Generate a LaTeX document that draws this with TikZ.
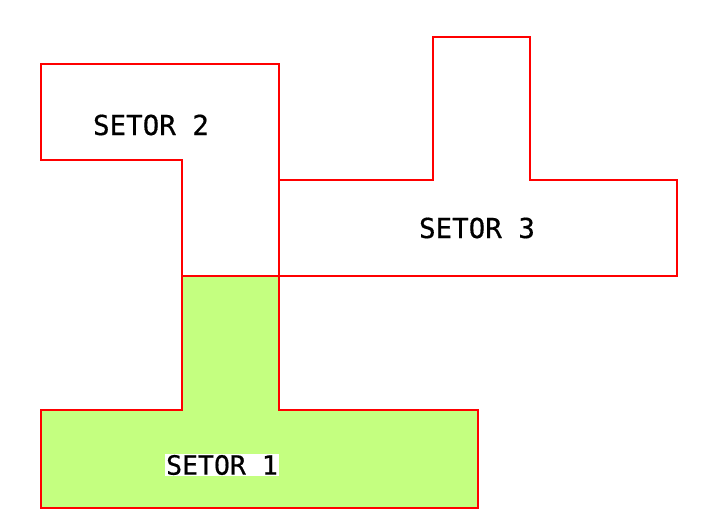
\documentclass[tikz,border=0pt]{standalone}
\usepackage{fontspec}
\setmonofont[FakeBold=0.6]{DejaVu Sans Mono}
\definecolor{setorred}{RGB}{255,0,0}
\definecolor{setorgreen}{RGB}{196,255,128}
\begin{document}
\begin{tikzpicture}[x=1pt,y=-1pt,
  region/.style={draw=setorred,line width=1.5pt,line join=miter},
  lbl/.style={font=\ttfamily\fontsize{27.5}{29}\selectfont,inner sep=1pt}]
\useasboundingbox (0,0) rectangle (718,510);
\path[region,fill=setorgreen] (182,276) -- (279,276) -- (279,410) -- (478,410) -- (478,508) -- (41,508) -- (41,410) -- (182,410) -- cycle;
\path[region] (41,64) -- (279,64) -- (279,276) -- (182,276) -- (182,160) -- (41,160) -- cycle;
\path[region] (279,180) -- (433,180) -- (433,37) -- (530,37) -- (530,180) -- (677,180) -- (677,276) -- (279,276) -- cycle;
\node[lbl] (s2) at (151,125) {SETOR 2};
\node[lbl] (s3) at (477,228) {SETOR 3};
\node[lbl,fill=white,font=\ttfamily\fontsize{26.5}{28}\selectfont] (s1) at (222,465) {SETOR 1};
\end{tikzpicture}
\end{document}
